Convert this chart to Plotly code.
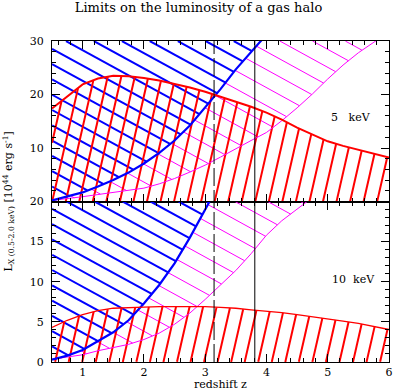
import numpy as np
import plotly.graph_objects as go
from plotly.subplots import make_subplots

# ---------------- data ----------------
z_grid = [0.5, 0.75, 1.0, 1.25, 1.5, 1.75, 2.0, 2.25, 2.5, 2.75, 3.0, 3.25,
          3.5, 3.75, 4.0, 4.25, 4.5, 4.75, 5.0, 5.25, 5.5, 5.75, 6.0]

# 5 keV panel (top)
red_5 = [17.4, 19.6, 21.9, 23.0, 23.5, 23.4, 23.1, 22.6, 22.0, 21.3, 20.5, 19.6,
         18.7, 17.7, 16.6, 15.3, 13.8, 12.5, 11.25, 10.4, 9.7, 8.95, 8.2]
blue_5_z = [0.5, 0.75, 1.0, 1.25, 1.5, 1.75, 2.0, 2.25, 2.5, 2.75, 3.0, 3.25,
            3.5, 3.75, 4.0]
blue_5 = [0.2, 0.9, 1.7, 2.8, 4.0, 5.4, 7.1, 9.1, 11.4, 14.2, 17.6, 21.0,
          24.7, 27.9, 31.2]
magenta_5 = [0.2, 0.5, 0.9, 1.3, 1.7, 2.05, 2.5, 3.3, 4.3, 5.5, 6.8, 8.3,
             9.9, 11.4, 12.9, 15.1, 17.5, 20.1, 22.9, 25.5, 27.8, 29.8, 31.7]

# 10 keV panel (bottom)
red_10 = [4.3, 5.2, 5.9, 6.4, 6.7, 6.8, 6.85, 6.9, 6.9, 6.9, 6.9, 6.8,
          6.7, 6.5, 6.35, 6.15, 5.9, 5.65, 5.4, 5.1, 4.8, 4.45, 4.05]
blue_10_z = [0.5, 0.75, 1.0, 1.25, 1.5, 1.75, 2.0, 2.25, 2.5, 2.75, 3.0, 3.25]
blue_10 = [0.3, 0.8, 1.5, 2.6, 3.7, 5.2, 7.3, 9.6, 12.3, 15.5, 18.9, 22.5]
magenta_10_z = [0.5, 0.75, 1.0, 1.25, 1.5, 1.75, 2.0, 2.25, 2.5, 2.75, 3.0,
                3.25, 3.5, 3.75, 4.0, 4.25, 4.5, 4.75]
magenta_10 = [0.35, 0.6, 0.9, 1.4, 1.8, 2.2, 2.8, 3.6, 4.7, 6.1, 7.8,
              9.6, 11.4, 13.5, 15.8, 17.6, 19.0, 20.5]

z_dashed = 3.145
z_solid = 3.81

x_range = [0.5, 6.0]
y_range_5 = [0, 30]
y_range_10 = [0, 20]
y_ticks_5 = [0, 10, 20, 30]
y_ticktext_5 = ["", "10", "20", "30"]
y_ticks_10 = [0, 5, 10, 15, 20]

# ---------------- geometry ----------------
W, H = 397, 390
ML, MR, MT, MB = 52, 4, 41, 28
PW = W - ML - MR
PH = H - MT - MB
box_top = (ML, ML + PW, MT, MT + PH / 2)
box_bot = (ML, ML + PW, MT + PH / 2, MT + PH)

BLUE = "#0000ff"
RED = "#ff0000"
MAG = "#ff00ff"


def hatch_segments(xr, yr, box, lower, upper, angle, spacing, through, step=0.25):
    x0p, x1p, y0p, y1p = box
    a = np.radians(angle)
    d = np.array([np.cos(a), -np.sin(a)])
    n = np.array([-d[1], d[0]])
    corners = np.array([[x0p, y0p], [x1p, y0p], [x0p, y1p], [x1p, y1p]])
    cs = corners @ n
    c0 = np.dot(np.array(through), n)
    kmin = int(np.floor((cs.min() - c0) / spacing)) - 1
    kmax = int(np.ceil((cs.max() - c0) / spacing)) + 1
    diag = np.hypot(x1p - x0p, y1p - y0p)
    center = np.array([(x0p + x1p) / 2, (y0p + y1p) / 2])
    t = np.arange(-diag, diag, step)
    xs, ys = [], []
    for k in range(kmin, kmax + 1):
        c = c0 + k * spacing
        base = center + (c - center @ n) * n
        px = base[0] + t * d[0]
        py = base[1] + t * d[1]
        inside = (px >= x0p) & (px <= x1p) & (py >= y0p) & (py <= y1p)
        zx = xr[0] + (px - x0p) / (x1p - x0p) * (xr[1] - xr[0])
        vy = yr[1] - (py - y0p) / (y1p - y0p) * (yr[1] - yr[0])
        m = inside & (vy >= lower(zx)) & (vy <= upper(zx))
        if not m.any():
            continue
        diff = np.diff(np.concatenate([[0], m.astype(int), [0]]))
        starts = np.where(diff == 1)[0]
        ends = np.where(diff == -1)[0] - 1
        for s, e in zip(starts, ends):
            if e - s < 2:
                continue
            xs += [float(zx[s]), float(zx[e]), None]
            ys += [float(vy[s]), float(vy[e]), None]
    return xs, ys


def interp_fn(zs, vs, right=None):
    if right is None:
        return lambda z: np.interp(z, zs, vs)
    return lambda z: np.interp(z, zs, vs, right=right)


NEG = lambda z: np.full_like(z, -np.inf)
POS = lambda z: np.full_like(z, np.inf)

fig = make_subplots(rows=2, cols=1, shared_xaxes=True, vertical_spacing=0)

panels = [
    dict(row=1, yr=y_range_5, box=box_top, red=red_5, bz=blue_5_z, b=blue_5,
         mz=z_grid, m=magenta_5, blue_pt=(53, 49.3), red_pt=(204, 196.7),
         mag_pt=(380, 40), redw=2),
    dict(row=2, yr=y_range_10, box=box_bot, red=red_10, bz=blue_10_z, b=blue_10,
         mz=magenta_10_z, m=magenta_10, blue_pt=(53, 209.3), red_pt=(96.7, 360),
         mag_pt=(306.7, 203.3), redw=1.3),
]

for p in panels:
    r = p["row"]
    red_f = interp_fn(z_grid, p["red"])
    blue_f = interp_fn(p["bz"], p["b"], right=np.inf)
    mag_f = interp_fn(p["mz"], p["m"], right=np.inf)

    # magenta hatch: between magenta curve and blue curve
    xs, ys = hatch_segments(x_range, p["yr"], p["box"], mag_f, blue_f,
                            -28.5, 15.8, p["mag_pt"])
    fig.add_trace(go.Scatter(x=xs, y=ys, mode="lines", line=dict(color=MAG, width=1),
                             hoverinfo="skip", showlegend=False), row=r, col=1)
    # blue hatch: above blue curve
    xs, ys = hatch_segments(x_range, p["yr"], p["box"], blue_f, POS,
                            -28.4, 13.46, p["blue_pt"])
    fig.add_trace(go.Scatter(x=xs, y=ys, mode="lines", line=dict(color=BLUE, width=2),
                             hoverinfo="skip", showlegend=False), row=r, col=1)
    # red hatch: below red curve
    xs, ys = hatch_segments(x_range, p["yr"], p["box"], NEG, red_f,
                            77.0, 13.35, p["red_pt"])
    fig.add_trace(go.Scatter(x=xs, y=ys, mode="lines", line=dict(color=RED, width=2),
                             hoverinfo="skip", showlegend=False), row=r, col=1)

    # boundary curves
    fig.add_trace(go.Scatter(x=p["mz"], y=p["m"], mode="lines",
                             line=dict(color=MAG, width=1), hoverinfo="skip",
                             showlegend=False), row=r, col=1)
    fig.add_trace(go.Scatter(x=p["bz"], y=p["b"], mode="lines",
                             line=dict(color=BLUE, width=2.2), hoverinfo="skip",
                             showlegend=False), row=r, col=1)
    fig.add_trace(go.Scatter(x=z_grid, y=p["red"], mode="lines",
                             line=dict(color=RED, width=p["redw"]), hoverinfo="skip",
                             showlegend=False), row=r, col=1)

# vertical lines across both panels
fig.add_shape(type="line", xref="x2", yref="paper", x0=z_dashed, x1=z_dashed,
              y0=0, y1=1, line=dict(color="black", width=1, dash="18px,4px"))
fig.add_shape(type="line", xref="x2", yref="paper", x0=z_solid, x1=z_solid,
              y0=0, y1=1, line=dict(color="black", width=1))

FONT = "DejaVu Serif"
axis_common = dict(showline=True, linecolor="black", linewidth=1, mirror="ticks",
                   ticks="inside", ticklen=8, tickwidth=1, tickcolor="black",
                   showgrid=False, zeroline=False)

fig.update_xaxes(range=x_range, tickmode="linear", tick0=0, dtick=1,
                 minor=dict(ticks="inside", ticklen=4, tickcolor="black",
                            tickmode="linear", tick0=0, dtick=0.2),
                 **axis_common)
fig.update_xaxes(showticklabels=False, row=1, col=1)
fig.update_xaxes(showticklabels=True, ticklabelstandoff=0, row=2, col=1)

fig.update_yaxes(range=y_range_5, tickmode="array", tickvals=y_ticks_5,
                 ticktext=y_ticktext_5,
                 minor=dict(ticks="inside", ticklen=4, tickcolor="black",
                            tickmode="linear", tick0=0, dtick=2),
                 ticklabelstandoff=5, row=1, col=1, **axis_common)
fig.update_yaxes(range=y_range_10, tickmode="array", tickvals=y_ticks_10,
                 minor=dict(ticks="inside", ticklen=4, tickcolor="black",
                            tickmode="linear", tick0=0, dtick=1),
                 ticklabelstandoff=5, row=2, col=1, **axis_common)

fig.add_annotation(text="5&nbsp;&nbsp;&nbsp;keV", xref="x", yref="y", x=5.02, y=15.7,
                   xanchor="left", yanchor="middle", showarrow=False,
                   font=dict(family=FONT, size=11, color="black"))
fig.add_annotation(text="10&nbsp;&nbsp;keV", xref="x2", yref="y2", x=5.03, y=10.3,
                   xanchor="left", yanchor="middle", showarrow=False,
                   font=dict(family=FONT, size=11, color="black"))
fig.add_annotation(text="redshift z", xref="paper", yref="paper", x=0.5, y=0,
                   xanchor="center", yanchor="middle", yshift=-22, showarrow=False,
                   font=dict(family=FONT, size=11, color="black"))
fig.add_annotation(text="L<sub>X (0.5-2.0 keV)</sub> [10<sup>44</sup> erg s<sup>-1</sup>]",
                   xref="paper", yref="paper", x=0, y=0.5, xanchor="center",
                   yanchor="middle", xshift=-44, textangle=-90, showarrow=False,
                   font=dict(family=FONT, size=11, color="black"))

fig.update_layout(
    width=W, height=H,
    margin=dict(l=ML, r=MR, t=MT, b=MB, pad=0),
    paper_bgcolor="white", plot_bgcolor="white",
    font=dict(family=FONT, size=11, color="black"),
    title=dict(text="Limits on the luminosity of a gas halo", x=0.5, xref="container",
               xanchor="center", y=1 - 7 / H, yref="container", yanchor="middle",
               font=dict(family=FONT, size=13, color="black")),
    showlegend=False,
)

fig.write_html("out.html", config={"displayModeBar": False},
               post_script="document.body.style.margin='0';document.body.style.padding='0';")
